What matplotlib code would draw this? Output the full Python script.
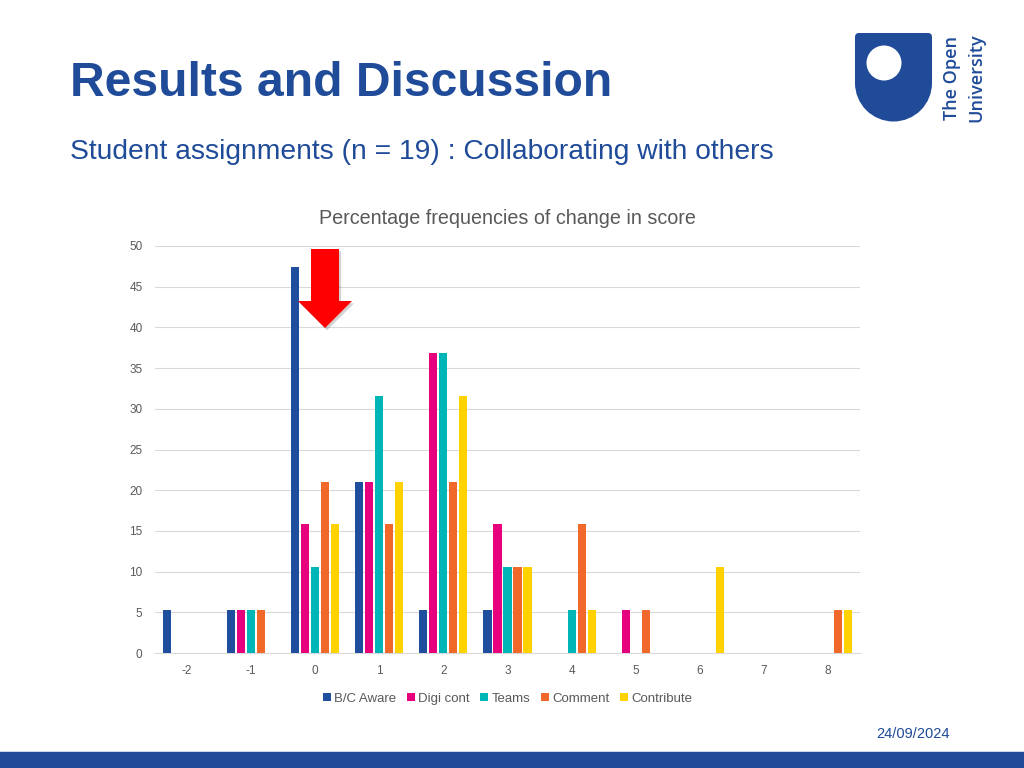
import numpy as np
from matplotlib import pyplot as plt
from matplotlib.patches import Rectangle, Circle, Polygon, FancyBboxPatch

plt.rcParams['font.family'] = ['Liberation Sans', 'DejaVu Sans']

categories = ['-2', '-1', '0', '1', '2', '3', '4', '5', '6', '7', '8']
series_names = ['B/C Aware', 'Digi cont', 'Teams', 'Comment', 'Contribute']
bc_aware = [5.26, 5.26, 47.37, 21.05, 5.26, 5.26, 0, 0, 0, 0, 0]
digi_cont = [0, 5.26, 15.79, 21.05, 36.84, 15.79, 0, 5.26, 0, 0, 0]
teams = [0, 5.26, 10.53, 31.58, 36.84, 10.53, 5.26, 0, 0, 0, 0]
comment = [0, 5.26, 21.05, 15.79, 21.05, 10.53, 15.79, 5.26, 0, 0, 5.26]
contribute = [0, 0, 15.79, 21.05, 31.58, 10.53, 5.26, 0, 10.53, 0, 5.26]
colors = ['#1f4e9c', '#e6007e', '#00b5b5', '#f0692a', '#ffd200']

OU_BLUE = '#1f4b99'

fig = plt.figure(figsize=(10.24, 7.68), dpi=100)

# slide heading
fig.text(70 / 1024, 1 - 96 / 768, 'Results and Discussion', fontsize=34.6,
         fontweight='bold', color=OU_BLUE, ha='left', va='baseline')
fig.text(70 / 1024, 1 - 159 / 768,
         'Student assignments (n = 19) : Collaborating with others',
         fontsize=20.3, color=OU_BLUE, ha='left', va='baseline')

# logo: shield with circle
shield_l, shield_r = 855 / 1024, 932 / 1024
shield_t, shield_b = 1 - 33 / 768, 1 - 122 / 768
ax_logo = fig.add_axes([shield_l, shield_b, shield_r - shield_l, shield_t - shield_b])
ax_logo.set_xlim(0, 77)
ax_logo.set_ylim(89, 0)
ax_logo.axis('off')
ax_logo.add_patch(FancyBboxPatch((0, 0), 77, 50, boxstyle='round,pad=0,rounding_size=4',
                                 color=OU_BLUE, lw=0))
ax_logo.add_patch(Rectangle((0, 20), 77, 30, color=OU_BLUE, lw=0))
ax_logo.add_patch(Circle((38.5, 50), 38.5, color=OU_BLUE, lw=0))
ax_logo.add_patch(Circle((29, 30), 17.5, color='white', lw=0, zorder=5))
fig.text(952 / 1024, 1 - 78.5 / 768, 'The Open', rotation=90, fontsize=13,
         fontweight='semibold', color=OU_BLUE, ha='center', va='center', family='Open Sans')
fig.text(976 / 1024, 1 - 78 / 768, 'University', rotation=90, fontsize=13,
         fontweight='semibold', color=OU_BLUE, ha='center', va='center', family='Open Sans')

# chart
ax = fig.add_axes([155 / 1024, 115 / 768, 705 / 1024, 407 / 768])
x = np.arange(len(categories))
slot = 0.156
width = 0.125
all_series = [bc_aware, digi_cont, teams, comment, contribute]
for i, (name, vals) in enumerate(zip(series_names, all_series)):
    ax.bar(x + (i - 2) * slot, vals, width=width, color=colors[i], label=name, zorder=3)

ax.set_xlim(-0.5, len(categories) - 0.5)
ax.set_ylim(0, 50)
ax.set_yticks(range(0, 51, 5))
ax.set_xticks(x)
ax.set_xticklabels(categories)
ax.grid(axis='y', color='#d9d9d9', lw=0.8, zorder=0)
for s in ['top', 'right', 'left']:
    ax.spines[s].set_visible(False)
ax.spines['bottom'].set_color('#d9d9d9')
ax.tick_params(axis='both', length=0, labelsize=8.5, labelcolor='#595959')
ax.tick_params(axis='x', pad=9)
ax.tick_params(axis='y', pad=9)
ax.set_title('Percentage frequencies of change in score', fontsize=14.2,
             color='#595959', pad=16)
ax.legend(loc='upper center', bbox_to_anchor=(0.5, -0.068), ncol=5, frameon=False,
          fontsize=9.5, labelcolor='#595959', handlelength=0.6, handleheight=0.6,
          handletextpad=0.25, columnspacing=0.8)

# red arrow annotation
px = [(311, 249), (339, 249), (339, 301), (352, 301), (325, 328), (298, 301), (311, 301)]
shadow = Polygon([(a / 1024 + 0.002, 1 - b / 768 - 0.003) for a, b in px],
                 closed=True, transform=fig.transFigure, color='#000000', alpha=0.18, lw=0)
arrow = Polygon([(a / 1024, 1 - b / 768) for a, b in px],
                closed=True, transform=fig.transFigure, color='#ff0000', lw=0)
fig.patches.append(shadow)
fig.patches.append(arrow)

# date and footer band
fig.text(913 / 1024, 1 - 734 / 768, '24/09/2024', fontsize=10.5, color=OU_BLUE,
         ha='center', va='center')
fig.patches.append(Rectangle((0, 0), 1, 16 / 768, transform=fig.transFigure,
                             color=OU_BLUE, lw=0))
fig.patches.append(Rectangle((0, 16 / 768), 1, 1.5 / 768, transform=fig.transFigure,
                             color='#c9d4ea', lw=0))

fig.savefig('out.png', dpi=100)
